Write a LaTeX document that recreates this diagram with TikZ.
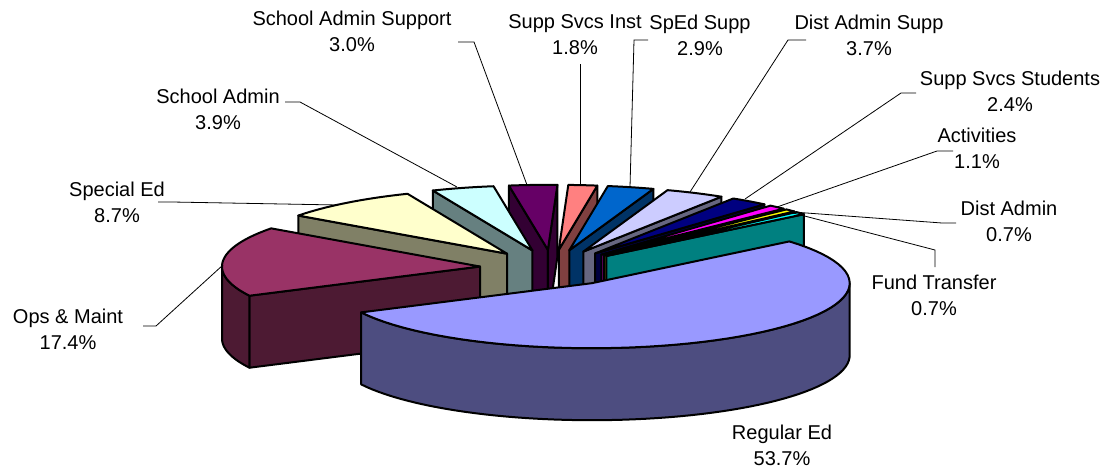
\documentclass[tikz,border=0pt]{standalone}
\usepackage{fontspec}
\setmainfont{Liberation Sans}
\definecolor{reT}{HTML}{9999FF}\definecolor{reS}{HTML}{4D4D80}
\definecolor{opT}{HTML}{993366}\definecolor{opS}{HTML}{4D1A33}
\definecolor{seT}{HTML}{FFFFCC}\definecolor{seS}{HTML}{808066}
\definecolor{saT}{HTML}{CCFFFF}\definecolor{saS}{HTML}{668080}
\definecolor{ssT}{HTML}{660066}\definecolor{ssS}{HTML}{330033}
\definecolor{siT}{HTML}{FF8080}\definecolor{siS}{HTML}{804040}
\definecolor{spT}{HTML}{0066CC}\definecolor{spS}{HTML}{003366}
\definecolor{daT}{HTML}{CCCCFF}\definecolor{daS}{HTML}{666680}
\definecolor{stT}{HTML}{000080}\definecolor{stS}{HTML}{000040}
\definecolor{acT}{HTML}{FF00FF}\definecolor{acS}{HTML}{800080}
\definecolor{dmT}{HTML}{FFFF00}\definecolor{dmS}{HTML}{808000}
\definecolor{ftT}{HTML}{00FFFF}\definecolor{ftS}{HTML}{008080}
\def\pcx{552}\def\pcy{268}\def\pra{258}\def\prb{65}\def\pex{0.28}\def\phh{72}
\newcommand\pievtx[2]{%
  \pgfmathsetmacro\piemid{(#1+#2)/2}%
  \pgfmathsetmacro\vx{\pcx+\pex*\pra*cos(\piemid)}%
  \pgfmathsetmacro\vy{\pcy-\pex*\prb*sin(\piemid)}}
\newcommand\piewall[2]{%
  \filldraw[pieface, fill=#2] (\vx,\vy) -- ({\vx+\pra*cos(#1)},{\vy-\prb*sin(#1)})
    -- ++(0,\phh) -- (\vx,{\vy+\phh}) -- cycle;}
\newcommand\pieouter[3]{%
  \filldraw[pieface, fill=#3]
    plot[domain=#1:#2, samples=60, variable=\ang] ({\vx+\pra*cos(\ang)},{\vy-\prb*sin(\ang)})
    -- plot[domain=#2:#1, samples=60, variable=\ang] ({\vx+\pra*cos(\ang)},{\vy+\phh-\prb*sin(\ang)})
    -- cycle;}
\newcommand\pietop[3]{%
  \filldraw[pieface, fill=#3] (\vx,\vy)
    -- plot[domain=#1:#2, samples=60, variable=\ang] ({\vx+\pra*cos(\ang)},{\vy-\prb*sin(\ang)})
    -- cycle;}
\tikzset{
  pieface/.style={draw=black, line width=2pt, line join=round},
  leader/.style={draw=black, line width=0.8pt},
  lbl/.style={font=\fontsize{20}{26}\selectfont, align=center, inner sep=0pt},
}
\begin{document}
\begin{tikzpicture}[x=1pt, y=-1pt]
\useasboundingbox[fill=white] (0,0) rectangle (1115,471);
% School Admin Support
\pievtx{98.68}{87.88}
\piewall{98.68}{ssS}\piewall{87.88}{ssS}\pietop{98.68}{87.88}{ssT}
% Supp Svcs Inst
\pievtx{87.88}{81.4}
\piewall{81.4}{siS}\pietop{87.88}{81.4}{siT}
% SpEd Supp
\pievtx{81.4}{70.96}
\piewall{70.96}{spS}\pietop{81.4}{70.96}{spT}
% School Admin
\pievtx{112.72}{98.68}
\piewall{112.72}{saS}\pietop{112.72}{98.68}{saT}
% Dist Admin Supp
\pievtx{70.96}{57.64}
\piewall{57.64}{daS}\pietop{70.96}{57.64}{daT}
% Supp Svcs Students
\pievtx{57.64}{49}
\piewall{49}{stS}\pietop{57.64}{49}{stT}
% Special Ed
\pievtx{144.04}{112.72}
\piewall{144.04}{seS}\pietop{144.04}{112.72}{seT}
% Activities
\pievtx{49}{45.04}
\piewall{45.04}{acS}\pietop{49}{45.04}{acT}
% Dist Admin
\pievtx{45.04}{42.52}
\piewall{42.52}{dmS}\pietop{45.04}{42.52}{dmT}
% Fund Transfer
\pievtx{42.52}{40}
\piewall{40}{ftS}\pietop{42.52}{40}{ftT}
% Ops & Maint
\pievtx{-153.32}{-215.96}
\piewall{-153.32}{opS}\pieouter{-153.32}{-180}{opS}\pietop{-153.32}{-215.96}{opT}
% Regular Ed
\pievtx{40}{-153.32}
\pieouter{0}{-153.32}{reS}\pietop{40}{-153.32}{reT}

% labels
\node[lbl] (lSAS) at (352,31) {School Admin Support\\3.0\%};
\node[lbl] (lSSI) at (575,35) {Supp Svcs Inst\\1.8\%};
\node[lbl] (lSPS) at (700,35) {SpEd Supp\\2.9\%};
\node[lbl] (lDAS) at (869,35) {Dist Admin Supp\\3.7\%};
\node[lbl] (lSST) at (1010,91) {Supp Svcs Students\\2.4\%};
\node[lbl] (lACT) at (977,148) {Activities\\1.1\%};
\node[lbl] (lDAD) at (1009,221) {Dist Admin\\0.7\%};
\node[lbl] (lFTR) at (934,295) {Fund Transfer\\0.7\%};
\node[lbl] (lREG) at (782,445) {Regular Ed\\53.7\%};
\node[lbl] (lOPS) at (68,329) {Ops \& Maint\\17.4\%};
\node[lbl] (lSPE) at (117,202) {Special Ed\\8.7\%};
\node[lbl] (lSAD) at (218,109) {School Admin\\3.9\%};

% leader coordinates
\coordinate (aSAS) at (458,42); \coordinate (bSAS) at (474,42); \coordinate (pSAS) at (527,185);
\coordinate (aSSI) at (580,64); \coordinate (pSSI) at (580,184);
\coordinate (aSPS) at (648,40); \coordinate (bSPS) at (634,40); \coordinate (pSPS) at (630,187);
\coordinate (aDAS) at (806,40); \coordinate (bDAS) at (788,40); \coordinate (pDAS) at (690,192);
\coordinate (aSST) at (916,93); \coordinate (bSST) at (901,93); \coordinate (pSST) at (745,199);
\coordinate (aACT) at (953,151); \coordinate (bACT) at (937,151); \coordinate (pACT) at (777,207);
\coordinate (aDAD) at (956,223); \coordinate (bDAD) at (942,223); \coordinate (pDAD) at (793,212);
\coordinate (aFTR) at (935,267); \coordinate (bFTR) at (935,250); \coordinate (pFTR) at (793,213);
\coordinate (aOPS) at (143,326); \coordinate (bOPS) at (156,326); \coordinate (pOPS) at (223,265);
\coordinate (aSPE) at (158,202); \coordinate (bSPE) at (172,202); \coordinate (pSPE) at (338,205);
\coordinate (aSAD) at (285,102); \coordinate (bSAD) at (300,102); \coordinate (pSAD) at (457,187);

\draw[leader] (aSAS) -- (bSAS) -- (pSAS);
\draw[leader] (aSSI) -- (pSSI);
\draw[leader] (aSPS) -- (bSPS) -- (pSPS);
\draw[leader] (aDAS) -- (bDAS) -- (pDAS);
\draw[leader] (aSST) -- (bSST) -- (pSST);
\draw[leader] (aACT) -- (bACT) -- (pACT);
\draw[leader] (aDAD) -- (bDAD) -- (pDAD);
\draw[leader] (aFTR) -- (bFTR) -- (pFTR);
\draw[leader] (aOPS) -- (bOPS) -- (pOPS);
\draw[leader] (aSPE) -- (bSPE) -- (pSPE);
\draw[leader] (aSAD) -- (bSAD) -- (pSAD);
\end{tikzpicture}
\end{document}
